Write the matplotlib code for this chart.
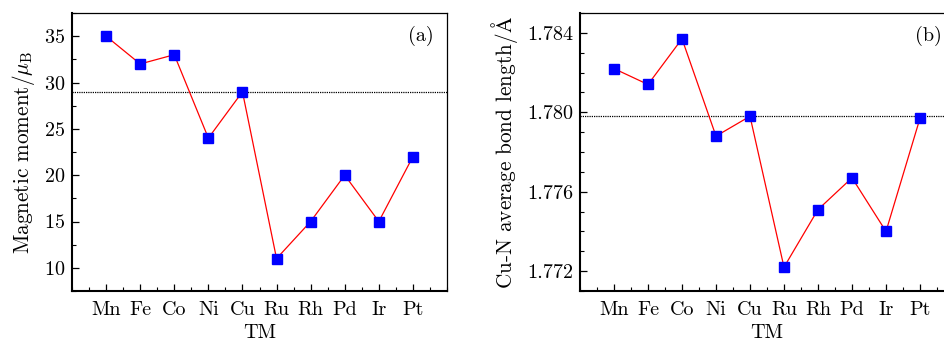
import matplotlib
matplotlib.use("Agg")
import matplotlib.pyplot as plt
from matplotlib.ticker import MultipleLocator, FixedLocator, FormatStrFormatter

plt.rcParams['font.family'] = ['cmr10', 'DejaVu Serif']
plt.rcParams['mathtext.fontset'] = 'cm'
plt.rcParams['axes.formatter.use_mathtext'] = True

categories = ["Mn", "Fe", "Co", "Ni", "Cu", "Ru", "Rh", "Pd", "Ir", "Pt"]
moment = [35, 32, 33, 24, 29, 11, 15, 20, 15, 22]
bond = [1.7822, 1.7814, 1.7837, 1.7788, 1.7798, 1.7722, 1.7751, 1.7767, 1.7740, 1.7797]
moment_ref = 29
bond_ref = 1.7798

FS = 14.5
FL = 15.3

fig = plt.figure(figsize=(9.44, 3.44), dpi=100)

ax1 = fig.add_axes([72/944, 1-291/344, (447-72)/944, (291-13)/344])
ax2 = fig.add_axes([580/944, 1-291/344, (954-580)/944, (291-13)/344])

xs = list(range(1, len(categories)+1))

def style(ax):
    ax.set_xlim(0, 11)
    ax.xaxis.set_major_locator(FixedLocator(xs))
    ax.set_xticklabels(categories)
    ax.xaxis.set_minor_locator(MultipleLocator(0.5))
    ax.tick_params(which='both', direction='in', top=False, right=False, labelsize=FS)
    ax.tick_params(which='major', length=5, width=0.9)
    ax.tick_params(which='minor', length=3, width=0.8)
    ax.tick_params(axis='x', pad=7)
    ax.tick_params(axis='y', pad=5)
    ax.spines['left'].set_linewidth(1.5)
    ax.spines['bottom'].set_linewidth(1.5)
    ax.spines['top'].set_linewidth(0.9)
    ax.spines['right'].set_linewidth(0.9)
    ax.set_xlabel("TM", fontsize=FS, labelpad=4)

ax1.plot(xs, moment, color='red', lw=0.9, marker='s', ms=6.5, mfc='blue', mec='blue', zorder=3)
ax1.axhline(moment_ref, color='black', lw=0.9, ls=(0, (1, 0.8)), zorder=2)
style(ax1)
ax1.set_ylim(7.5, 37.5)
ax1.yaxis.set_major_locator(MultipleLocator(5))
ax1.yaxis.set_minor_locator(MultipleLocator(2.5))
ax1.set_ylabel(r"Magnetic moment/$\mu_{\rm B}$", fontsize=FL, labelpad=5)
ax1.text(0.965, 0.955, "(a)", transform=ax1.transAxes, ha='right', va='top', fontsize=FS)

ax2.plot(xs, bond, color='red', lw=0.9, marker='s', ms=6.5, mfc='blue', mec='blue', zorder=3)
ax2.axhline(bond_ref, color='black', lw=0.9, ls=(0, (1, 0.8)), zorder=2)
style(ax2)
ax2.set_ylim(1.771, 1.785)
ax2.yaxis.set_major_locator(MultipleLocator(0.004))
ax2.yaxis.set_minor_locator(MultipleLocator(0.001))
ax2.yaxis.set_major_formatter(FormatStrFormatter('%.3f'))
ax2.set_ylabel(r"Cu-N average bond length/$\mathrm{\AA}$", fontsize=FL, labelpad=5)
ax2.text(0.968, 0.955, "(b)", transform=ax2.transAxes, ha='right', va='top', fontsize=FS)

fig.savefig("out.png", dpi=100)
